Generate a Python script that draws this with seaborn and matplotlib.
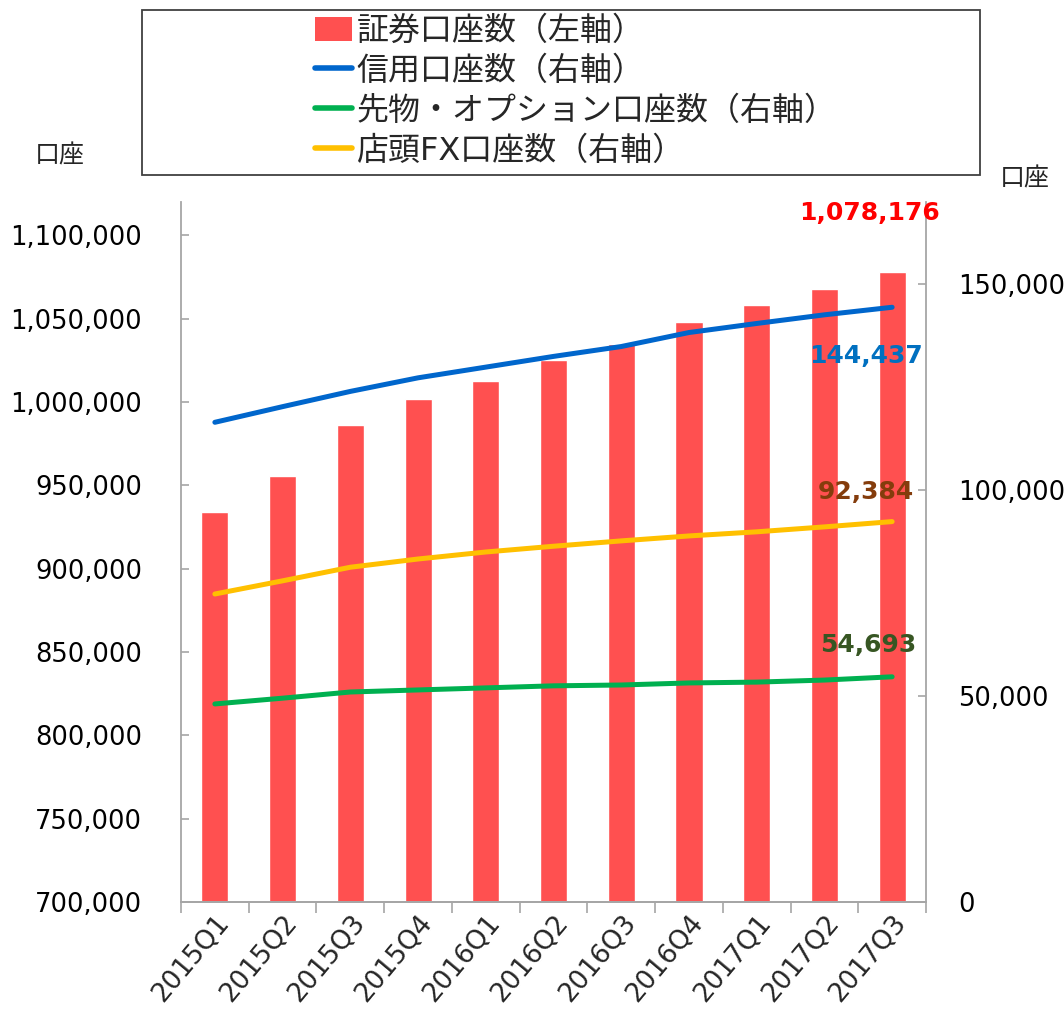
import numpy as np
import matplotlib
matplotlib.use("Agg")
import matplotlib.pyplot as plt
import seaborn as sns
from matplotlib.patches import Rectangle, Patch
from matplotlib.lines import Line2D
from matplotlib.ticker import FuncFormatter, FixedLocator

categories = ["2015Q1", "2015Q2", "2015Q3", "2015Q4", "2016Q1", "2016Q2",
              "2016Q3", "2016Q4", "2017Q1", "2017Q2", "2017Q3"]
securities = [934200, 955900, 986500, 1002100, 1012900, 1025500,
              1035100, 1048300, 1058000, 1067600, 1078176]
margin = [116500, 120300, 124000, 127300, 129900, 132500,
          134900, 138300, 140500, 142600, 144437]
futures = [48100, 49500, 51000, 51500, 52000, 52500,
           52700, 53200, 53400, 53900, 54693]
fx = [74800, 78000, 81300, 83300, 85000, 86400,
      87700, 88900, 89900, 91100, 92384]

legend_labels = ["証券口座数（左軸）", "信用口座数（右軸）",
                 "先物・オプション口座数（右軸）", "店頭FX口座数（右軸）"]
axis_unit = "口座"

bar_color = "#FF5050"
c_margin = "#0066CC"
c_fut = "#00B050"
c_fx = "#FFC000"
grey = "#A6A6A6"

sns.set_theme(style="white")
plt.rcParams["font.family"] = ["DejaVu Sans", "Noto Sans CJK JP"]

fig = plt.figure(figsize=(10.64, 10.16), dpi=100)
ax = fig.add_axes([181/1064, 1-902/1016, (926-181)/1064, (902-202)/1016])

sns.barplot(x=categories, y=securities, color=bar_color, saturation=1,
            width=0.4, ax=ax, zorder=2)
ax.set_ylim(700000, 1120000)
ax.set_xlim(-0.5, len(categories)-0.5)

ax2 = ax.twinx()
xs = np.arange(len(categories))
for vals, col in [(margin, c_margin), (futures, c_fut), (fx, c_fx)]:
    sns.lineplot(x=xs, y=vals, color=col, linewidth=3.6, ax=ax2,
                 solid_capstyle="round")
ax2.set_ylim(0, 170000)
ax2.set_xlim(-0.5, len(categories)-0.5)

fmt = FuncFormatter(lambda v, p: f"{int(v):,}")
ax.yaxis.set_major_locator(FixedLocator(np.arange(700000, 1100001, 50000)))
ax.yaxis.set_major_formatter(fmt)
ax2.yaxis.set_major_locator(FixedLocator(np.arange(0, 150001, 50000)))
ax2.yaxis.set_major_formatter(fmt)

for a in (ax, ax2):
    a.spines["top"].set_visible(False)
    for s in ("left", "right", "bottom"):
        a.spines[s].set_color(grey)
        a.spines[s].set_linewidth(1.3)
    a.set_xlabel("")
    a.set_ylabel("")

ax.spines["right"].set_visible(False)
ax2.spines["left"].set_visible(False)

ax.tick_params(axis="y", direction="in", length=6, width=1.2, color=grey,
               labelsize=18.5, pad=28, labelcolor="black")
ax2.tick_params(axis="y", direction="in", length=6, width=1.2, color=grey,
                labelsize=18.5, pad=23, labelcolor="black")

ax.set_xticks(xs)
ax.set_xticklabels(categories, rotation=50, ha="right", rotation_mode="anchor")
ax.tick_params(axis="x", which="major", length=0, labelsize=19, pad=6)
ax.set_xticks(np.arange(-0.5, len(categories), 1.0), minor=True)
ax.tick_params(axis="x", which="minor", length=8, width=1.2, color=grey,
               direction="out", bottom=True)
ax2.tick_params(axis="x", which="both", length=0)

# Value labels
ax2.annotate(f"{securities[-1]:,}", xy=(xs[-1], 1), xycoords=("data", "axes fraction"),
             xytext=(-23, -11), textcoords="offset pixels", ha="center",
             va="center", color="#FF0000", fontsize=18, fontweight="bold",
             annotation_clip=False, zorder=20)
ax2.annotate(f"{margin[-1]:,}", xy=(xs[-1], margin[-1]),
             xytext=(-26, -49), textcoords="offset pixels", ha="center",
             va="center", color="#0070C0", fontsize=18, fontweight="bold", zorder=20)
ax2.annotate(f"{fx[-1]:,}", xy=(xs[-1], fx[-1]),
             xytext=(-26, 30), textcoords="offset pixels", ha="center",
             va="center", color="#843C0C", fontsize=18, fontweight="bold", zorder=20)
ax2.annotate(f"{futures[-1]:,}", xy=(xs[-1], futures[-1]),
             xytext=(-24, 32), textcoords="offset pixels", ha="center",
             va="center", color="#375623", fontsize=18, fontweight="bold", zorder=20)

# Axis unit labels
fig.text(60/1064, 1-155/1016, axis_unit, ha="center", va="center", fontsize=18)
fig.text(1025/1064, 1-178/1016, axis_unit, ha="center", va="center", fontsize=18)

# Legend box
fig.patches.append(Rectangle((142/1064, 1-175/1016), (980-142)/1064, (175-10)/1016,
                             transform=fig.transFigure, fill=False,
                             edgecolor="#404040", linewidth=1.3))
handles = [Patch(facecolor=bar_color, edgecolor="none"),
           Line2D([], [], color=c_margin, linewidth=4, solid_capstyle="round"),
           Line2D([], [], color=c_fut, linewidth=4, solid_capstyle="round"),
           Line2D([], [], color=c_fx, linewidth=4, solid_capstyle="round")]
fig.legend(handles, legend_labels, loc="upper left",
           bbox_to_anchor=(299/1064, 1-0/1016), frameon=False,
           fontsize=23, handlelength=1.15, handleheight=0.8,
           handletextpad=0.15, labelspacing=0.28, borderpad=0.0)

fig.savefig("out.png", dpi=100)
